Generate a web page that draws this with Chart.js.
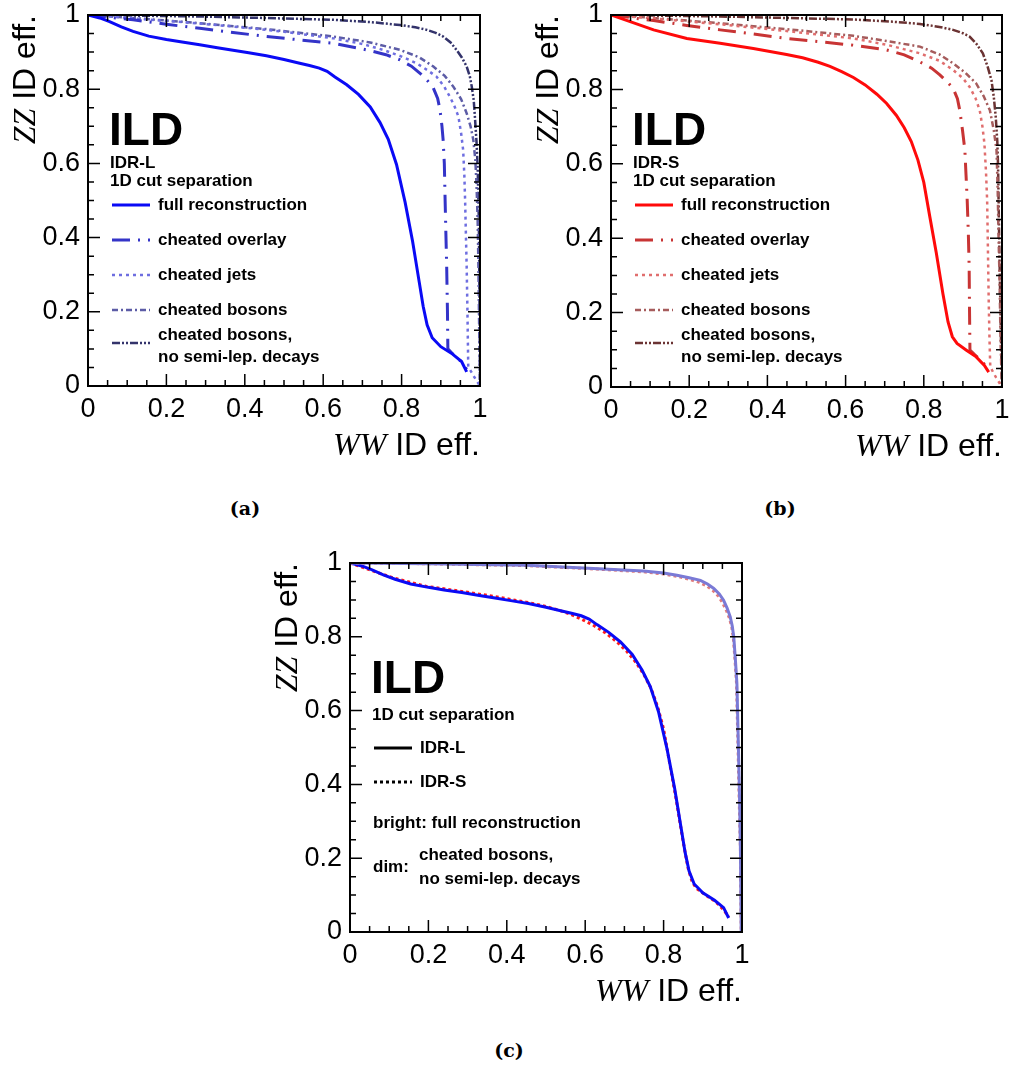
<!DOCTYPE html>
<html>
<head>
<meta charset="utf-8">
<script src="https://cdn.jsdelivr.net/npm/chart.js@4.4.1/dist/chart.umd.min.js"></script>
<style>
  body { margin: 0; background: #fff; width: 1010px; height: 1068px; position: relative; overflow: hidden; }
  .panel { position: absolute; }
  .cap { position: absolute; font: bold 19px "DejaVu Serif", serif; transform: translate(-50%, -50%); color: #000; }
</style>
</head>
<body>
<div class="panel" style="left:0px;top:0px;width:500px;height:470px"><canvas id="chartA"></canvas></div>
<div class="panel" style="left:520px;top:0px;width:490px;height:470px"><canvas id="chartB"></canvas></div>
<div class="panel" style="left:260px;top:548px;width:500px;height:470px"><canvas id="chartC"></canvas></div>
<div class="cap" style="left:245px;top:508px">(a)</div>
<div class="cap" style="left:780px;top:508px">(b)</div>
<div class="cap" style="left:509px;top:1050px">(c)</div>

<script>
// tick labels of both axes
const tickLabels = ['0', '0.2', '0.4', '0.6', '0.8', '1'];

// ---- IDR-L (panel a, and panel c solid) : x = WW eff, y = ZZ eff ----
const fullL_x = [0, 0.03, 0.055, 0.085, 0.115, 0.155, 0.2, 0.24, 0.285, 0.33, 0.37, 0.41, 0.455, 0.5, 0.54, 0.565, 0.59, 0.61, 0.63, 0.66, 0.69, 0.72, 0.745, 0.766, 0.787, 0.809, 0.828, 0.845, 0.855, 0.865, 0.878, 0.9, 0.93, 0.953, 0.966];
const fullL_y = [1, 0.992, 0.982, 0.968, 0.956, 0.943, 0.934, 0.927, 0.92, 0.912, 0.905, 0.898, 0.89, 0.88, 0.87, 0.864, 0.857, 0.848, 0.833, 0.812, 0.786, 0.752, 0.71, 0.665, 0.597, 0.495, 0.39, 0.28, 0.215, 0.165, 0.13, 0.106, 0.086, 0.066, 0.038];

const overlayL_x = [0, 0.05, 0.115, 0.2, 0.285, 0.37, 0.455, 0.54, 0.626, 0.711, 0.76, 0.796, 0.825, 0.847, 0.866, 0.881, 0.892, 0.898, 0.903, 0.906, 0.909, 0.911, 0.913, 0.915, 0.917, 0.918, 0.93, 0.95, 0.966];
const overlayL_y = [1, 0.994, 0.987, 0.975, 0.964, 0.953, 0.942, 0.933, 0.924, 0.906, 0.893, 0.879, 0.862, 0.843, 0.823, 0.803, 0.775, 0.744, 0.7, 0.663, 0.6, 0.501, 0.41, 0.322, 0.2, 0.1, 0.087, 0.068, 0.045];

const jetsL_x = [0, 0.115, 0.25, 0.37, 0.5, 0.626, 0.7, 0.753, 0.8, 0.838, 0.865, 0.889, 0.908, 0.923, 0.935, 0.945, 0.952, 0.957, 0.96, 0.962, 0.964, 0.966, 0.968, 0.97, 0.985, 1];
const jetsL_y = [1, 0.991, 0.98, 0.969, 0.955, 0.937, 0.922, 0.906, 0.888, 0.87, 0.852, 0.834, 0.808, 0.78, 0.754, 0.726, 0.68, 0.636, 0.57, 0.501, 0.41, 0.322, 0.2, 0.052, 0.025, 0];

const bosonsL_x = [0, 0.115, 0.285, 0.455, 0.626, 0.72, 0.796, 0.845, 0.881, 0.91, 0.932, 0.952, 0.966, 0.976, 0.983, 0.988, 0.991, 0.994, 0.996, 0.998, 1];
const bosonsL_y = [1, 0.992, 0.978, 0.962, 0.942, 0.926, 0.906, 0.886, 0.861, 0.836, 0.807, 0.773, 0.735, 0.7, 0.663, 0.61, 0.546, 0.45, 0.322, 0.15, 0];

const nosemiL_x = [0, 0.285, 0.45, 0.626, 0.72, 0.796, 0.835, 0.864, 0.887, 0.906, 0.925, 0.94, 0.954, 0.966, 0.974, 0.979, 0.984, 0.987, 0.991, 0.994, 0.997, 0.999, 1];
const nosemiL_y = [1, 0.996, 0.992, 0.987, 0.981, 0.973, 0.967, 0.96, 0.952, 0.942, 0.926, 0.906, 0.885, 0.861, 0.835, 0.807, 0.77, 0.726, 0.66, 0.591, 0.45, 0.2, 0];

// ---- IDR-S (panel b, and panel c dotted) ----
const fullS_x = [0, 0.049, 0.109, 0.194, 0.279, 0.364, 0.449, 0.49, 0.53, 0.56, 0.59, 0.62, 0.65, 0.68, 0.705, 0.73, 0.75, 0.768, 0.785, 0.8, 0.815, 0.832, 0.849, 0.862, 0.873, 0.885, 0.909, 0.934, 0.955, 0.966];
const fullS_y = [1, 0.982, 0.96, 0.937, 0.924, 0.91, 0.894, 0.885, 0.873, 0.862, 0.848, 0.832, 0.812, 0.787, 0.762, 0.73, 0.697, 0.66, 0.61, 0.55, 0.46, 0.36, 0.25, 0.175, 0.135, 0.117, 0.099, 0.081, 0.058, 0.04];

const overlayS_x = [0, 0.05, 0.109, 0.194, 0.279, 0.364, 0.449, 0.534, 0.619, 0.705, 0.75, 0.79, 0.82, 0.841, 0.86, 0.875, 0.886, 0.892, 0.899, 0.905, 0.908, 0.911, 0.914, 0.916, 0.917, 0.918, 0.93, 0.95, 0.966];
const overlayS_y = [1, 0.993, 0.985, 0.972, 0.96, 0.949, 0.937, 0.928, 0.919, 0.906, 0.893, 0.874, 0.857, 0.839, 0.82, 0.803, 0.775, 0.744, 0.69, 0.637, 0.57, 0.502, 0.41, 0.323, 0.2, 0.099, 0.087, 0.068, 0.045];

const jetsS_x = [0, 0.109, 0.279, 0.449, 0.62, 0.705, 0.79, 0.84, 0.875, 0.9, 0.917, 0.932, 0.943, 0.95, 0.955, 0.959, 0.962, 0.964, 0.966, 0.968, 0.97, 0.985, 1];
const jetsS_y = [1, 0.991, 0.975, 0.957, 0.937, 0.92, 0.897, 0.877, 0.852, 0.83, 0.807, 0.777, 0.744, 0.7, 0.655, 0.58, 0.502, 0.37, 0.233, 0.13, 0.054, 0.025, 0];

const bosonsS_x = [0, 0.109, 0.279, 0.449, 0.62, 0.705, 0.79, 0.84, 0.875, 0.906, 0.934, 0.953, 0.969, 0.979, 0.986, 0.989, 0.991, 0.994, 0.996, 0.998, 1];
const bosonsS_y = [1, 0.992, 0.978, 0.962, 0.944, 0.93, 0.915, 0.894, 0.87, 0.845, 0.816, 0.782, 0.744, 0.69, 0.637, 0.53, 0.413, 0.28, 0.143, 0.06, 0];

const nosemiS_x = [0, 0.279, 0.45, 0.62, 0.72, 0.79, 0.84, 0.875, 0.9, 0.917, 0.935, 0.951, 0.963, 0.973, 0.979, 0.984, 0.988, 0.99, 0.992, 0.994, 0.997, 1];
const nosemiS_y = [1, 0.996, 0.992, 0.988, 0.982, 0.976, 0.968, 0.96, 0.951, 0.942, 0.922, 0.897, 0.862, 0.825, 0.78, 0.726, 0.66, 0.592, 0.45, 0.323, 0.15, 0];

// ---- panel c, "dim" curves (cheated bosons, no semi-lep. decays) ----
const dimL_x = [0, 0.2, 0.451, 0.621, 0.749, 0.8, 0.834, 0.865, 0.894, 0.912, 0.928, 0.942, 0.953, 0.962, 0.97, 0.975, 0.979, 0.983, 0.987, 0.991, 0.994, 0.996, 0.998];
const dimL_y = [1, 0.998, 0.994, 0.985, 0.978, 0.973, 0.967, 0.96, 0.953, 0.943, 0.931, 0.916, 0.899, 0.878, 0.854, 0.83, 0.8, 0.74, 0.674, 0.493, 0.35, 0.223, 0];
const dimS_x = [0, 0.2, 0.451, 0.621, 0.749, 0.8, 0.834, 0.865, 0.89, 0.91, 0.925, 0.94, 0.95, 0.96, 0.968, 0.974, 0.978, 0.982, 0.986, 0.99, 0.993, 0.996, 0.998];
const dimS_y = [1, 0.998, 0.993, 0.984, 0.976, 0.97, 0.964, 0.956, 0.948, 0.938, 0.926, 0.91, 0.893, 0.872, 0.85, 0.826, 0.795, 0.74, 0.674, 0.493, 0.35, 0.223, 0];

const legendA = ['full reconstruction', 'cheated overlay', 'cheated jets', 'cheated bosons', 'cheated bosons,|no semi-lep. decays'];

const SANS = '"Liberation Sans", Arial, sans-serif';
const SERIF = '"Liberation Serif", "Times New Roman", serif';

// dash styles
const DASH_OVERLAY = [18, 8, 2, 8];
const DASH_JETS = [3, 4];
const DASH_BOSONS = [6, 3, 2, 3];
const DASH_NOSEMI = [8, 2, 2, 2, 2, 2];

function pts(xs, ys) {
  return xs.map((x, i) => ({ x: x, y: ys[i] }));
}

function line(label, xs, ys, color, width, dash) {
  return {
    label: label, data: pts(xs, ys), borderColor: color, backgroundColor: color,
    borderWidth: width, borderDash: dash || [], showLine: true, pointRadius: 0,
    tension: 0, fill: false
  };
}

// ROOT-like frame with inward ticks, axis titles and text box
function rootPlugin(extra) {
  return {
    id: 'rootFrame',
    afterDraw(chart) {
      const ctx = chart.ctx;
      const ca = chart.chartArea;
      const sx = chart.scales.x, sy = chart.scales.y;
      ctx.save();
      ctx.strokeStyle = '#000';
      ctx.lineWidth = 2;
      ctx.setLineDash([]);
      ctx.strokeRect(ca.left, ca.top, ca.right - ca.left, ca.bottom - ca.top);
      ctx.lineWidth = 1.5;
      ctx.beginPath();
      for (let i = 1; i < 20; i++) {
        const len = (i % 4 === 0) ? 12 : 6;
        const px = sx.getPixelForValue(i / 20);
        const py = sy.getPixelForValue(i / 20);
        ctx.moveTo(px, ca.bottom); ctx.lineTo(px, ca.bottom - len);
        ctx.moveTo(px, ca.top); ctx.lineTo(px, ca.top + len);
        ctx.moveTo(ca.left, py); ctx.lineTo(ca.left + len, py);
        ctx.moveTo(ca.right, py); ctx.lineTo(ca.right - len, py);
      }
      ctx.stroke();

      // axis titles
      ctx.fillStyle = '#000';
      ctx.textBaseline = 'alphabetic';
      ctx.textAlign = 'left';
      const fSans = '32px ' + SANS;
      const fIt = 'italic 32px ' + SERIF;
      ctx.font = fSans;
      const w2 = ctx.measureText(' ID eff.').width;
      ctx.font = fIt;
      const wWW = ctx.measureText('WW').width;
      const wZZ = ctx.measureText('ZZ').width;
      let x0 = ca.right - wWW - w2;
      ctx.fillText('WW', x0, ca.bottom + 69);
      ctx.font = fSans;
      ctx.fillText(' ID eff.', x0 + wWW, ca.bottom + 69);

      ctx.save();
      ctx.translate(ca.left - 53, ca.top);
      ctx.rotate(-Math.PI / 2);
      ctx.font = fIt;
      ctx.fillText('ZZ', -(wZZ + w2), 0);
      ctx.font = fSans;
      ctx.fillText(' ID eff.', -w2, 0);
      ctx.restore();

      // ILD label
      ctx.font = 'bold 46px ' + SANS;
      ctx.fillText('ILD', ca.left + 21, ca.top + 130);

      // free text
      ctx.font = 'bold 17px ' + SANS;
      ctx.textBaseline = 'middle';
      extra.texts.forEach(t => ctx.fillText(t.s, ca.left + t.x, ca.top + t.y));

      // legend samples
      extra.samples.forEach(s => {
        const ds = s.style || chart.data.datasets[s.ds];
        ctx.strokeStyle = ds.borderColor;
        ctx.lineWidth = ds.borderWidth;
        ctx.setLineDash(ds.borderDash || []);
        ctx.beginPath();
        ctx.moveTo(ca.left + 24, ca.top + s.y);
        ctx.lineTo(ca.left + 62, ca.top + s.y);
        ctx.stroke();
      });
      ctx.restore();
    }
  };
}

function makeChart(id, w, h, area, datasets, extra) {
  return new Chart(document.getElementById(id), {
    type: 'scatter',
    data: { datasets: datasets },
    options: {
      responsive: true,
      maintainAspectRatio: false,
      animation: false,
      layout: { padding: { left: 0, top: area.top, right: w - area.right, bottom: 0 } },
      plugins: { legend: { display: false }, tooltip: { enabled: false } },
      scales: {
        x: {
          type: 'linear', min: 0, max: 1,
          grid: { display: false, drawTicks: false },
          border: { display: false },
          ticks: {
            stepSize: 0.2, padding: 7, maxRotation: 0, color: '#000',
            font: { family: SANS, size: 27 },
            callback: v => tickLabels[Math.round(v * 5)]
          },
          afterFit: s => { s.height = h - area.bottom; s.paddingLeft = 0; s.paddingRight = 0; }
        },
        y: {
          type: 'linear', min: 0, max: 1,
          grid: { display: false, drawTicks: false },
          border: { display: false },
          ticks: {
            stepSize: 0.2, padding: 8, color: '#000',
            font: { family: SANS, size: 27 },
            callback: v => tickLabels[Math.round(v * 5)]
          },
          afterFit: s => { s.width = area.left; s.paddingTop = 0; s.paddingBottom = 0; }
        }
      }
    },
    plugins: [rootPlugin(extra)]
  });
}

function legendTexts(first) {
  return [
    { s: first, x: 22, y: 148 },
    { s: '1D cut separation', x: 22, y: 166 },
    { s: legendA[0], x: 70, y: 190 },
    { s: legendA[1], x: 70, y: 225 },
    { s: legendA[2], x: 70, y: 260 },
    { s: legendA[3], x: 70, y: 295 },
    { s: legendA[4].split('|')[0], x: 70, y: 320 },
    { s: legendA[4].split('|')[1], x: 70, y: 342 }
  ];
}
const legendSamples = [{ ds: 0, y: 190 }, { ds: 1, y: 225 }, { ds: 2, y: 260 }, { ds: 3, y: 295 }, { ds: 4, y: 328 }];

// panel (a) IDR-L
makeChart('chartA', 500, 470, { left: 88, top: 15, right: 480, bottom: 386 }, [
  line(legendA[0], fullL_x, fullL_y, '#0a0af5', 3),
  line(legendA[1], overlayL_x, overlayL_y, '#3434c8', 3, DASH_OVERLAY),
  line(legendA[2], jetsL_x, jetsL_y, '#6e6ee0', 2.5, DASH_JETS),
  line(legendA[3], bosonsL_x, bosonsL_y, '#5c5ca6', 2.5, DASH_BOSONS),
  line(legendA[4], nosemiL_x, nosemiL_y, '#33336b', 2.5, DASH_NOSEMI)
], { texts: legendTexts('IDR-L'), samples: legendSamples });

// panel (b) IDR-S
makeChart('chartB', 490, 470, { left: 91, top: 15, right: 482, bottom: 387 }, [
  line(legendA[0], fullS_x, fullS_y, '#ff0a0a', 3),
  line(legendA[1], overlayS_x, overlayS_y, '#c83434', 3, DASH_OVERLAY),
  line(legendA[2], jetsS_x, jetsS_y, '#e06e6e', 2.5, DASH_JETS),
  line(legendA[3], bosonsS_x, bosonsS_y, '#a65c5c', 2.5, DASH_BOSONS),
  line(legendA[4], nosemiS_x, nosemiS_y, '#6b3333', 2.5, DASH_NOSEMI)
], { texts: legendTexts('IDR-S'), samples: legendSamples });

// panel (c) comparison
makeChart('chartC', 500, 470, { left: 90, top: 15, right: 482, bottom: 384 }, [
  line('IDR-L dim', dimL_x, dimL_y, '#7a7ad6', 3),
  line('IDR-S dim', dimS_x, dimS_y, '#e07c7c', 3, [3, 3]),
  line('IDR-L', fullL_x, fullL_y, '#0a0af5', 3),
  line('IDR-S', fullS_x, fullS_y, '#ff1a1a', 3, [3, 3])
], {
  texts: [
    { s: '1D cut separation', x: 22, y: 152 },
    { s: 'IDR-L', x: 70, y: 185 },
    { s: 'IDR-S', x: 70, y: 219 },
    { s: 'bright: full reconstruction', x: 23, y: 260 },
    { s: 'dim:', x: 23, y: 304 },
    { s: 'cheated bosons,', x: 69, y: 292 },
    { s: 'no semi-lep. decays', x: 69, y: 316 }
  ],
  samples: [
    { style: { borderColor: '#000', borderWidth: 3, borderDash: [] }, y: 185 },
    { style: { borderColor: '#000', borderWidth: 3, borderDash: [3, 3] }, y: 219 }
  ]
});
</script>
</body>
</html>
